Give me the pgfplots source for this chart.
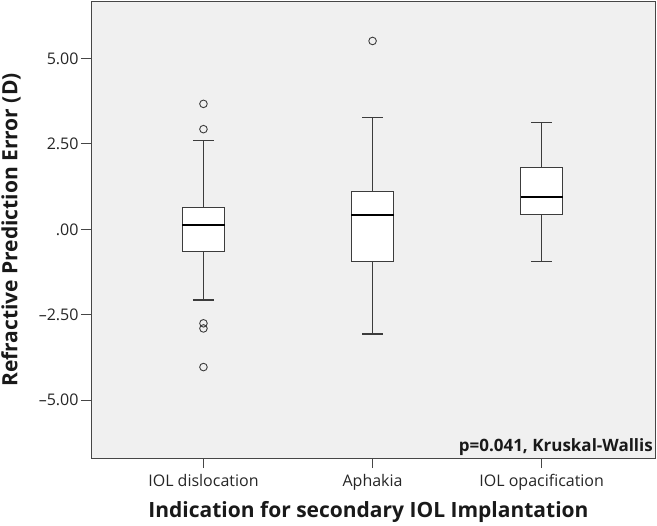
\documentclass[border=0pt]{standalone}
\usepackage{fontspec}
\setmainfont{Open Sans}
\usepackage{pgfplots}
\pgfplotsset{compat=1.18}
\usepgfplotslibrary{statistics}
\definecolor{bg}{RGB}{240,240,240}
\definecolor{frame}{RGB}{70,70,70}
\definecolor{boxc}{RGB}{60,60,60}
\begin{document}
\begin{tikzpicture}
\useasboundingbox (0,0) rectangle (657bp,526bp);
\begin{axis}[
  at={(91bp,68bp)}, anchor=south west,
  scale only axis, width=564bp, height=456bp,
  xmin=-0.665, xmax=2.67, ymin=-6.69, ymax=6.65,
  axis background/.style={fill=bg},
  axis line style={draw=frame, line width=1bp},
  xtick={0,1,2}, xticklabels={IOL dislocation, Aphakia, IOL opacification},
  ytick={-5,-2.5,0,2.5,5}, yticklabels={\textendash5.00,\textendash2.50,.00,2.50,5.00},
  xtick pos=bottom, ytick pos=left,
  xtick align=outside, ytick align=outside,
  major tick length=10bp,
  every tick/.style={draw=frame, line width=1bp},
  ticklabel style={font=\fontsize{16bp}{19bp}\selectfont, text=black!85},
  yticklabel style={xshift=1bp},
  xticklabel style={yshift=-3bp},
  xlabel={Indication for secondary IOL Implantation},
  ylabel={Refractive Prediction Error (D)},
  label style={font=\bfseries\fontsize{21bp}{24bp}\selectfont, text=black!90},
  xlabel style={at={(axis description cs:0.492,0)}, anchor=center, yshift=-54bp},
  ylabel style={at={(axis description cs:0,0.5)}, anchor=center, rotate=0, yshift=80bp},
  boxplot/draw direction=y,
  boxplot/box extend=0.25,
  boxplot/whisker extend=0.125,
  boxplot/every box/.style={draw=boxc, fill=white, line width=1bp},
  boxplot/every whisker/.style={draw=boxc, line width=1.2bp},
  boxplot/every median/.style={draw=black, line width=2bp},
  clip=false,
]
\addplot+[boxplot prepared={draw position=0, median=0.13, upper quartile=0.65, lower quartile=-0.66, upper whisker=2.59, lower whisker=-2.07},
  mark=o, mark size=3.8bp, mark options={draw=boxc, line width=0.9bp, fill=none}, draw=boxc, solid]
  coordinates {(0,3.67) (0,2.93) (0,-2.75) (0,-2.90) (0,-4.03)};
\addplot+[boxplot prepared={draw position=1, median=0.42, upper quartile=1.12, lower quartile=-0.95, upper whisker=3.26, lower whisker=-3.06},
  mark=o, mark size=3.8bp, mark options={draw=boxc, line width=0.9bp, fill=none}, draw=boxc, solid]
  coordinates {(1,5.51)};
\addplot+[boxplot prepared={draw position=2, median=0.95, upper quartile=1.80, lower quartile=0.43, upper whisker=3.12, lower whisker=-0.93},
  mark=o, mark size=3.8bp, mark options={draw=boxc, line width=0.9bp, fill=none}, draw=boxc, solid]
  coordinates {};
\node[anchor=south east, inner sep=2bp, font=\bfseries\fontsize{17bp}{20bp}\selectfont, text=black!90] at (rel axis cs:1,0) {p=0.041, Kruskal-Wallis};
\end{axis}
\end{tikzpicture}
\end{document}
